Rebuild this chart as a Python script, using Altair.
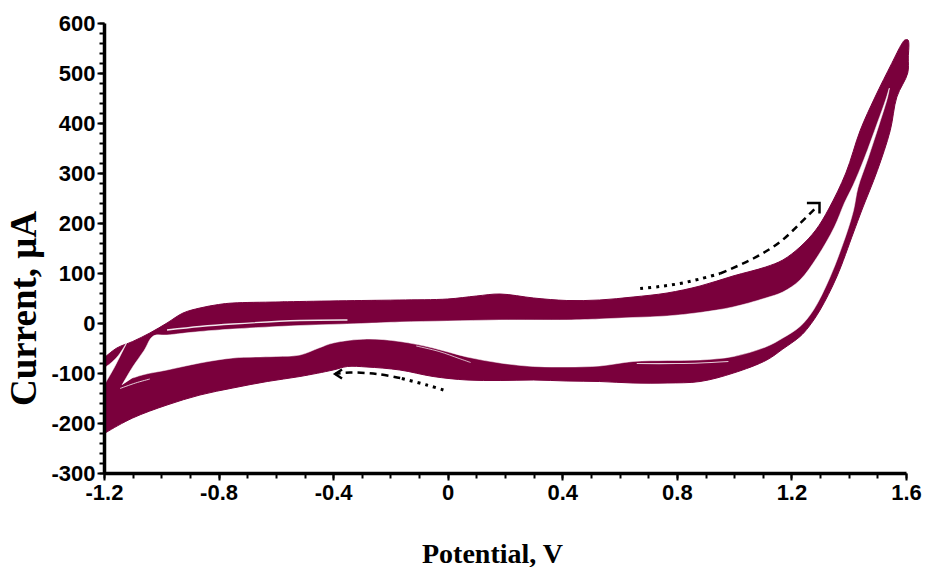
import altair as alt
import pandas as pd

MAROON = "#7A003C"

# ---- outer boundary of the stacked CV cycles (potential V, current uA)
OUTER_V = [-1.2, -1.155, -1.10, -1.04, -0.98, -0.924, -0.865, -0.80, -0.75, -0.60, -0.516, -0.30,
           -0.167, 0.0, 0.10, 0.183, 0.30, 0.416, 0.53, 0.647, 0.766, 0.881, 0.996, 1.11, 1.17,
           1.23, 1.285, 1.33, 1.39, 1.44, 1.492, 1.55, 1.585, 1.596, 1.607, 1.608, 1.606, 1.568,
           1.545, 1.50, 1.446, 1.416, 1.358, 1.30, 1.26, 1.23, 1.17, 1.114, 0.998, 0.881, 0.766,
           0.647, 0.53, 0.416, 0.30, 0.183, 0.067, -0.051, -0.167, -0.282, -0.35, -0.40, -0.516,
           -0.63, -0.75, -0.865, -0.98, -1.10, -1.19, -1.2]
OUTER_I = [-70, -50, -37, -20, 0, 20, 30, 37, 40, 42, 43, 45,
           46, 48, 54, 58, 50, 45, 46, 52, 60, 74, 94, 112, 126,
           152, 186, 228, 300, 385, 452, 519, 558, 566, 566, 530, 500, 452,
           385, 305, 226, 180, 92, 26, -8, -27, -52, -74, -100, -117, -120,
           -120, -117, -116, -114, -115, -114, -107, -94, -88, -87, -94, -107,
           -117, -130, -144, -164, -190, -218, -222]

# ---- inner (empty) part of the loop
HOLE_V = [-1.137, -1.10, -1.06, -1.028, -0.98, -0.865, -0.75, -0.516, -0.30, -0.167, 0.0, 0.183,
          0.416, 0.53, 0.647, 0.766, 0.881, 0.996, 1.11, 1.17, 1.23, 1.29, 1.35, 1.385, 1.415,
          1.455, 1.50, 1.53, 1.542, 1.536, 1.508, 1.468, 1.432, 1.417, 1.393, 1.335, 1.277,
          1.23, 1.17, 1.114, 0.998, 0.881, 0.766, 0.647, 0.53, 0.416, 0.30, 0.183, 0.067, -0.051,
          -0.167, -0.282, -0.40, -0.45, -0.516, -0.60, -0.75, -0.865, -0.98, -1.06, -1.10]
HOLE_I = [-124, -88, -55, -26, -24, -17, -12, -5, -1, 2, 4, 6,
          6, 8, 11, 14, 21, 32, 50, 62, 86, 132, 192, 240, 275,
          330, 400, 448, 470, 452, 400, 330, 270, 226, 180, 92, 26,
          -7, -30, -47, -67, -74, -75, -77, -86, -88, -87, -80, -68, -50,
          -37, -32, -40, -50, -64, -67, -70, -80, -94, -103, -110]

# ---- small gap near the left turning point
WEDGE_V = [-1.2, -1.18, -1.15, -1.121, -1.14, -1.165, -1.185, -1.2]
WEDGE_I = [-90, -82, -65, -40, -62, -90, -110, -125]

# ---- thin light streaks between cycles
STREAK_A_V = [-0.98, -0.865, -0.75, -0.516, -0.35]
STREAK_A_I = [-14, -7, -2, 5, 6]
STREAK_B_V = [0.66, 0.80, 0.88, 0.98]
STREAK_B_I = [-81, -81, -80, -77]
STREAK_C_V = [-0.11, -0.03, 0.04, 0.08]
STREAK_C_I = [-46, -57, -71, -79]
STREAK_D_V = [-1.144, -1.09, -1.04]
STREAK_D_I = [-131, -120, -112]

# ---- scan-direction arrows
ARROW1_DOT_V = [0.672, 0.74, 0.811, 0.88, 0.951]
ARROW1_DOT_I = [69, 73, 79, 88, 99]
ARROW1_DASH_V = [0.951, 1.067, 1.16, 1.23, 1.288]
ARROW1_DASH_I = [99, 129, 162, 199, 232]
ARROW1_HEAD_V = [1.254, 1.298, 1.298]
ARROW1_HEAD_I = [240, 240, 219]

ARROW2_DOT_V = [-0.015, -0.073, -0.166]
ARROW2_DOT_I = [-134, -124, -110]
ARROW2_DASH_V = [-0.166, -0.247, -0.341, -0.393]
ARROW2_DASH_I = [-110, -102, -99, -102]
ARROW2_HEAD_V = [-0.369, -0.393, -0.369]
ARROW2_HEAD_I = [-93, -102, -111]

# ---- axes
X_MAJOR = [-1.2, -0.8, -0.4, 0.0, 0.4, 0.8, 1.2, 1.6]
X_MINOR = [-1.2, -1.1, -1.0, -0.9, -0.8, -0.7, -0.6, -0.5, -0.4, -0.3, -0.2, -0.1, 0.0,
           0.1, 0.2, 0.3, 0.4, 0.5, 0.6, 0.7, 0.8, 0.9, 1.0, 1.1, 1.2, 1.3, 1.4, 1.5, 1.6]
Y_MAJOR = [-300, -200, -100, 0, 100, 200, 300, 400, 500, 600]
Y_MINOR = list(range(-300, 601, 20))


def frame(vs, cs):
    return pd.DataFrame({"v": vs, "c": cs, "i": list(range(len(vs)))})


xs = alt.Scale(domain=[-1.2, 1.6], nice=False, zero=False)
ys = alt.Scale(domain=[-300, 600], nice=False, zero=False)

common_axis = dict(
    tickColor="black", domainColor="black", labelColor="black", titleColor="black",
    labelFont="Liberation Sans", labelFontWeight="bold", labelFontSize=22,
    titleFont="Liberation Serif", titleFontWeight="bold", grid=False,
    labelFlush=False, labelOverlap=False, zindex=1,
)

major_x = alt.Axis(values=X_MAJOR, orient="bottom", tickSize=7, tickWidth=2, domainWidth=3.5,
                   labelPadding=2,
                   labelExpr="datum.value == 0 ? '0' : replace(format(datum.value, '.1f'), '\u2212', '-')",
                   title="Potential, V", titleFontSize=28, titleX=388, titleY=89,
                   titleAlign="center", titleBaseline="alphabetic", **common_axis)
major_y = alt.Axis(values=Y_MAJOR, orient="left", tickSize=7, tickWidth=2,
                   domainWidth=3.5, labelPadding=2,
                   labelExpr="replace(format(datum.value, 'd'), '\u2212', '-')",
                   title="Current, μA", titleFontSize=37, titleAngle=270, titleX=-80, titleY=285,
                   titleAlign="center", titleBaseline="middle", **common_axis)
minor_x = alt.Axis(values=X_MINOR, orient="bottom", tickSize=5, tickWidth=2, labels=False,
                   domain=False, title="", tickColor="black", grid=False, zindex=1)
minor_y = alt.Axis(values=Y_MINOR, orient="left", tickSize=5, tickWidth=2, labels=False,
                   domain=False, title="", tickColor="black", grid=False, zindex=1)


def poly(vs, cs, fill, stroke_w=1.0, interp="catmull-rom"):
    return alt.Chart(frame(vs, cs)).mark_line(
        fill=fill, stroke=fill, strokeWidth=stroke_w, interpolate=interp
    ).encode(
        x=alt.X("v:Q", scale=xs, axis=None),
        y=alt.Y("c:Q", scale=ys, axis=None),
        order="i:Q",
    )


def path(vs, cs, color, width, dash=None, interp="catmull-rom", opacity=1.0):
    kw = dict(stroke=color, color=color, strokeWidth=width, interpolate=interp,
              opacity=opacity, strokeCap="butt")
    if dash is not None:
        kw["strokeDash"] = dash
    return alt.Chart(frame(vs, cs)).mark_line(**kw).encode(
        x=alt.X("v:Q", scale=xs, axis=None),
        y=alt.Y("c:Q", scale=ys, axis=None),
        order="i:Q",
    )


outer = alt.Chart(frame(OUTER_V, OUTER_I)).mark_line(
    fill=MAROON, stroke=MAROON, strokeWidth=1, interpolate="catmull-rom"
).encode(
    x=alt.X("v:Q", scale=xs, axis=major_x),
    y=alt.Y("c:Q", scale=ys, axis=major_y),
    order="i:Q",
)

minor = alt.Chart(frame(OUTER_V, OUTER_I)).mark_line(opacity=0).encode(
    x=alt.X("v:Q", scale=xs, axis=minor_x),
    y=alt.Y("c:Q", scale=ys, axis=minor_y),
    order="i:Q",
)

layers = [
    outer,
    minor,
    poly(HOLE_V, HOLE_I, "white", 0.5),
    poly(WEDGE_V, WEDGE_I, "white", 0.5),
    path(STREAK_A_V, STREAK_A_I, "white", 1.3, opacity=0.9),
    path(STREAK_B_V, STREAK_B_I, "white", 1.2, opacity=0.8),
    path(STREAK_C_V, STREAK_C_I, "white", 1.0, opacity=0.7),
    path(STREAK_D_V, STREAK_D_I, "white", 1.0, opacity=0.8),
    path(ARROW1_DOT_V, ARROW1_DOT_I, "black", 3, dash=[3, 5]),
    path(ARROW1_DASH_V, ARROW1_DASH_I, "black", 2.5, dash=[7, 5]),
    path(ARROW1_HEAD_V, ARROW1_HEAD_I, "black", 2.5, interp="linear"),
    path(ARROW2_DOT_V, ARROW2_DOT_I, "black", 3, dash=[3, 5]),
    path(ARROW2_DASH_V, ARROW2_DASH_I, "black", 2.5, dash=[7, 5]),
    path(ARROW2_HEAD_V, ARROW2_HEAD_I, "black", 2.5, interp="linear"),
]

chart = alt.layer(*layers).resolve_axis(
    x="independent", y="independent"
).properties(
    width=802, height=450,
    padding={"left": 104, "top": 23, "right": 19, "bottom": 94},
    autosize=alt.AutoSizeParams(type="none"),
    background="white",
).configure_view(stroke=None)

chart.save("out.html", embed_options={"renderer": "svg", "actions": False})
